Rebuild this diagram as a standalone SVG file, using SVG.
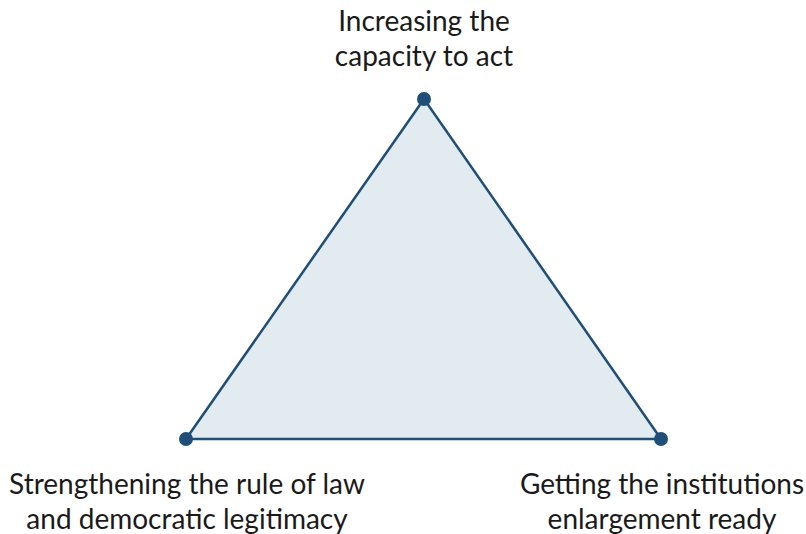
<svg xmlns="http://www.w3.org/2000/svg" width="806" height="534" viewBox="0 0 806 534">
<style>
.lbl{font-family:Lato,"Liberation Sans",sans-serif;font-size:28px;fill:#1a1a1a;text-anchor:middle}
.dot{fill:#1f4e79}
</style>
<rect width="806" height="534" fill="#fff"/>
<g id="connectors">
<polygon points="424,99 186,439 661,439" fill="#e2ebef" stroke="#1f4e79" stroke-width="2.5" stroke-linejoin="round"/>
</g>
<g id="node-top">
<circle class="dot" cx="424" cy="99" r="7"/>
<text class="lbl" x="424" y="31">Increasing the</text>
<text class="lbl" x="424" y="66">capacity to act</text>
</g>
<g id="node-left">
<circle class="dot" cx="186" cy="439" r="7"/>
<text class="lbl" x="187" y="494">Strengthening the rule of law</text>
<text class="lbl" x="187" y="529">and democratic legitimacy</text>
</g>
<g id="node-right">
<circle class="dot" cx="661" cy="439" r="7"/>
<text class="lbl" x="662" y="494">Getting the institutions</text>
<text class="lbl" x="662" y="529">enlargement ready</text>
</g>
</svg>
